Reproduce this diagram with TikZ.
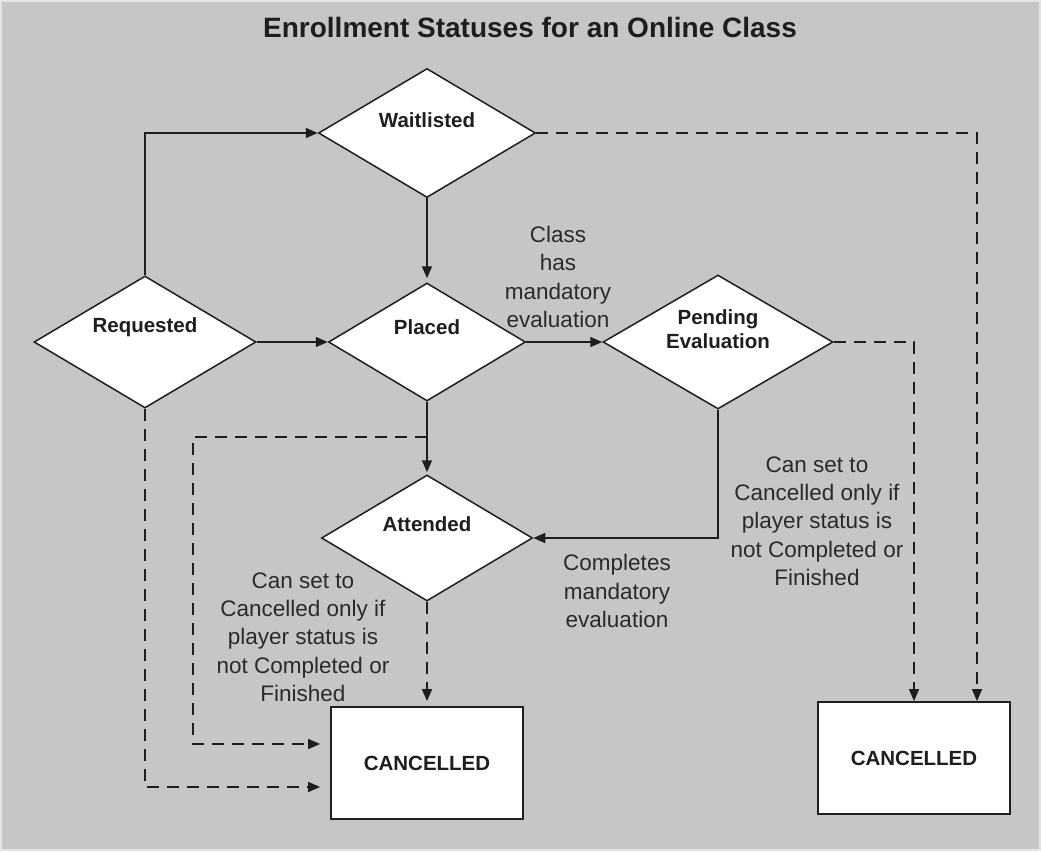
\documentclass[tikz,border=0pt]{standalone}
\usepackage{fontspec}
\setmainfont{Liberation Sans}
\usetikzlibrary{shapes.geometric,arrows.meta}
\definecolor{canvas}{HTML}{C6C6C6}
\definecolor{rim}{HTML}{E4E4E4}
\definecolor{ink}{HTML}{1E1E1E}
\definecolor{notegray}{HTML}{2A2A2A}

\begin{document}
\begin{tikzpicture}[x=1pt,y=-1pt,
  flow/.style={draw=ink, line width=1.6pt, -{Triangle[length=12pt,width=10pt]}},
  maybe/.style={flow, dash pattern=on 12pt off 8pt},
  status/.style={diamond, draw=ink, line width=1.5pt, fill=white, inner sep=0pt},
  lbl/.style={font=\bfseries\fontsize{20.5}{24}\selectfont, text=ink, align=center},
  endbox/.style={rectangle, draw=ink, line width=1.8pt, fill=white,
    minimum width=192pt, minimum height=112pt, inner sep=0pt,
    font=\bfseries\fontsize{20.5}{24}\selectfont, text=ink},
  note/.style={align=center, text=notegray, inner sep=0pt,
    font=\fontsize{22.5}{28.3}\selectfont},
]
% page and backdrop
\fill[rim] (0,0) rectangle (1041,851);
\fill[canvas] (2,2) rectangle (1039,849);
\useasboundingbox (0,0) rectangle (1041,851);

\node[font=\bfseries\fontsize{28}{32}\selectfont, text=ink] (title) at (530,27)
  {Enrollment Statuses for an Online Class};

% status diamonds
\node[status, minimum width=222pt, minimum height=132pt,
  label={[lbl, yshift=15pt]center:Requested}] (req) at (145,342) {};
\node[status, minimum width=217pt, minimum height=129pt,
  label={[lbl, yshift=13pt]center:Waitlisted}] (wait) at (427,133) {};
\node[status, minimum width=197pt, minimum height=118pt,
  label={[lbl, yshift=15pt]center:Placed}] (placed) at (427,342) {};
\node[status, minimum width=230pt, minimum height=134pt,
  label={[lbl, yshift=13pt]center:Pending\\Evaluation}] (pend) at (718,342) {};
\node[status, minimum width=211pt, minimum height=126pt,
  label={[lbl, yshift=14pt]center:Attended}] (att) at (427,538) {};

% end states
\node[endbox] (cl) at (427,763) {CANCELLED};
\node[endbox] (cr) at (914,758) {CANCELLED};

% transition notes
\node[note] (n1) at (558,277) {Class\\has\\mandatory\\evaluation};
\node[note] (n2) at (617,591) {Completes\\mandatory\\evaluation};
\node[note] (n3) at (817,521) {Can set to\\Cancelled only if\\player status is\\not Completed or\\Finished};
\node[note] (n4) at (303,637) {Can set to\\Cancelled only if\\player status is\\not Completed or\\Finished};

% helper points
\coordinate (split) at (427,437);
\coordinate (bend) at (193,437);

% solid transitions
\draw[flow] (req.north) |- (wait.west);
\draw[flow, shorten >=4pt] (wait.south) -- (placed.north);
\draw[flow] (req.east) -- (placed.west);
\draw[flow] (placed.east) -- (pend.west);
\draw[flow, shorten >=2pt] (placed.south) -- (att.north);
\draw[flow] (pend.south) |- (att.east);

% cancellation paths
\draw[maybe, shorten >=10pt] (split) -- (bend) |- ([yshift=19pt]cl.west);
\draw[maybe, shorten >=10pt] (req.south) |- ([yshift=-24pt]cl.west);
\draw[maybe, shorten >=5pt] (att.south) -- (cl.north);
\draw[maybe] (pend.east) -| (cr.north);
\draw[maybe] (wait.east) -| ([xshift=63pt]cr.north);
\end{tikzpicture}
\end{document}
